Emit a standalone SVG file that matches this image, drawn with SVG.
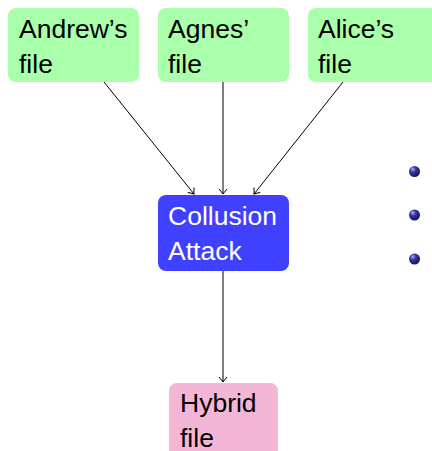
<svg xmlns="http://www.w3.org/2000/svg" width="432" height="451" viewBox="0 0 432 451">
  <style>
    .lbl { font-family: "Liberation Sans", Arial, sans-serif; font-size: 26.5px; fill: #000; }
    .lbl.white { fill: #fff; }
    .src { fill: #aaffaa; }
    .atk { fill: #4040ff; }
    .out { fill: #f4b6d6; }
    .edge { stroke: #000; stroke-width: 1; fill: none; }
  </style>
  <defs>
    <marker id="arrow" viewBox="-6 -5 8 10" refX="0" refY="0" markerWidth="8" markerHeight="10" markerUnits="userSpaceOnUse" orient="auto">
      <path d="M-5,-4 Q-1.5,-1 0,0 Q-1.5,1 -5,4" fill="none" stroke="#000" stroke-width="1"/>
    </marker>
    <radialGradient id="ball" cx="0.35" cy="0.3" r="0.75">
      <stop offset="0" stop-color="#b0b0ff"/>
      <stop offset="0.35" stop-color="#3a3aa8"/>
      <stop offset="1" stop-color="#10104a"/>
    </radialGradient>
  </defs>

  <g id="andrew">
    <rect class="src" x="8" y="8" width="131" height="74" rx="8"/>
    <text class="lbl" x="19" y="38">Andrew’s</text>
    <text class="lbl" x="19" y="73">file</text>
  </g>
  <g id="agnes">
    <rect class="src" x="158" y="8" width="131" height="74" rx="8"/>
    <text class="lbl" x="168" y="38">Agnes’</text>
    <text class="lbl" x="168" y="73">file</text>
  </g>
  <g id="alice">
    <rect class="src" x="308" y="8" width="131" height="74" rx="8"/>
    <text class="lbl" x="318" y="38">Alice’s</text>
    <text class="lbl" x="318" y="73">file</text>
  </g>
  <g id="collusion">
    <rect class="atk" x="158" y="195" width="131" height="76" rx="8"/>
    <text class="lbl white" x="168" y="225">Collusion</text>
    <text class="lbl white" x="168" y="260">Attack</text>
  </g>
  <g id="hybrid">
    <rect class="out" x="169" y="383" width="109" height="80" rx="8"/>
    <text class="lbl" x="180" y="412">Hybrid</text>
    <text class="lbl" x="180" y="447">file</text>
  </g>

  <g id="connectors">
    <line class="edge" x1="104" y1="82" x2="194" y2="194" marker-end="url(#arrow)"/>
    <line class="edge" x1="223" y1="82" x2="223" y2="194" marker-end="url(#arrow)"/>
    <line class="edge" x1="343" y1="82" x2="254" y2="194" marker-end="url(#arrow)"/>
    <line class="edge" x1="223" y1="271" x2="223" y2="382" marker-end="url(#arrow)"/>
  </g>

  <g id="bullets">
    <circle cx="414.5" cy="171.5" r="5.5" fill="url(#ball)"/>
    <circle cx="414.5" cy="215" r="5.5" fill="url(#ball)"/>
    <circle cx="414.5" cy="259" r="5.5" fill="url(#ball)"/>
  </g>
</svg>
